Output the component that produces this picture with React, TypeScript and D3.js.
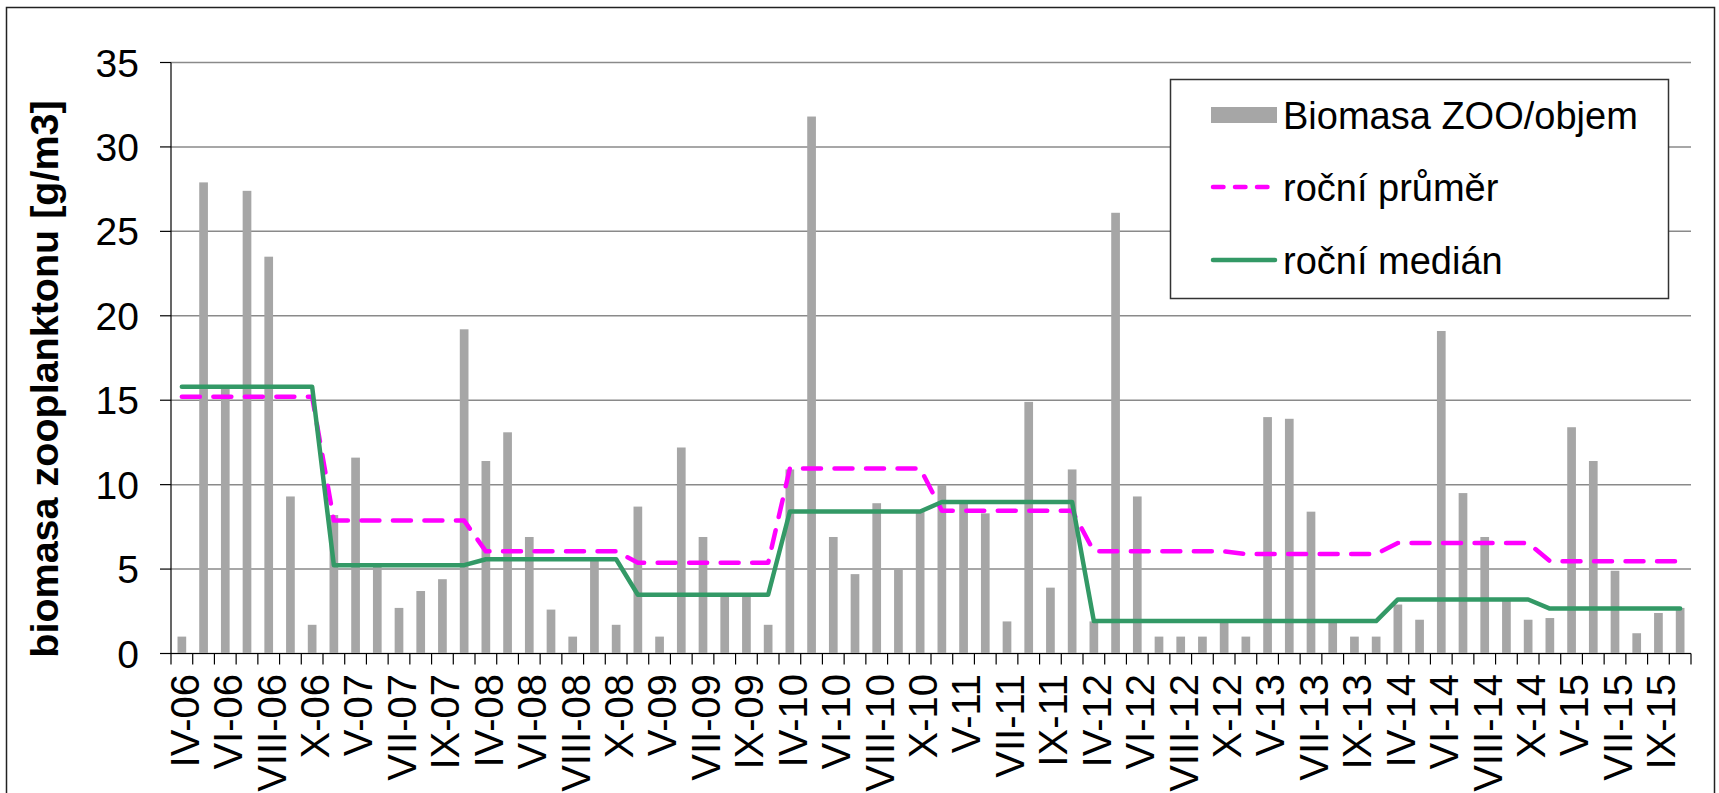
import React from "react";
import * as d3 from "d3";

const categories: string[] = [
  "IV-06","V-06","VI-06","VII-06","VIII-06","IX-06","X-06",
  "IV-07","V-07","VI-07","VII-07","VIII-07","IX-07","X-07",
  "IV-08","V-08","VI-08","VII-08","VIII-08","IX-08","X-08",
  "IV-09","V-09","VI-09","VII-09","VIII-09","IX-09","X-09",
  "IV-10","V-10","VI-10","VII-10","VIII-10","IX-10","X-10",
  "IV-11","V-11","VI-11","VII-11","VIII-11","IX-11","X-11",
  "IV-12","V-12","VI-12","VII-12","VIII-12","IX-12","X-12",
  "IV-13","V-13","VI-13","VII-13","VIII-13","IX-13","X-13",
  "IV-14","V-14","VI-14","VII-14","VIII-14","IX-14","X-14",
  "IV-15","V-15","VI-15","VII-15","VIII-15","IX-15","X-15",
];

const biomasa: number[] = [
  1.0, 27.9, 15.8, 27.4, 23.5, 9.3, 1.7,
  8.2, 11.6, 5.2, 2.7, 3.7, 4.4, 19.2,
  11.4, 13.1, 6.9, 2.6, 1.0, 5.6, 1.7,
  8.7, 1.0, 12.2, 6.9, 3.5, 3.4, 1.7,
  10.9, 31.8, 6.9, 4.7, 8.9, 5.0, 8.4,
  10.0, 9.0, 8.3, 1.9, 14.9, 3.9, 10.9,
  1.9, 26.1, 9.3, 1.0, 1.0, 1.0, 1.9,
  1.0, 14.0, 13.9, 8.4, 1.9, 1.0, 1.0,
  2.9, 2.0, 19.1, 9.5, 6.9, 3.2, 2.0,
  2.1, 13.4, 11.4, 4.9, 1.2, 2.4, 2.7,
];

const rocniPrumer: number[] = [
  15.2, 15.2, 15.2, 15.2, 15.2, 15.2, 15.2,
  7.87, 7.87, 7.87, 7.87, 7.87, 7.87, 7.87,
  6.05, 6.05, 6.05, 6.05, 6.05, 6.05, 6.05,
  5.37, 5.37, 5.37, 5.37, 5.37, 5.37, 5.37,
  10.96, 10.96, 10.96, 10.96, 10.96, 10.96, 10.96,
  8.46, 8.46, 8.46, 8.46, 8.46, 8.46, 8.46,
  6.05, 6.05, 6.05, 6.05, 6.05, 6.05, 6.05,
  5.89, 5.89, 5.89, 5.89, 5.89, 5.89, 5.89,
  6.54, 6.54, 6.54, 6.54, 6.54, 6.54, 6.54,
  5.47, 5.47, 5.47, 5.47, 5.47, 5.47, 5.47,
];

const rocniMedian: number[] = [
  15.8, 15.8, 15.8, 15.8, 15.8, 15.8, 15.8,
  5.23, 5.23, 5.23, 5.23, 5.23, 5.23, 5.23,
  5.58, 5.58, 5.58, 5.58, 5.58, 5.58, 5.58,
  3.48, 3.48, 3.48, 3.48, 3.48, 3.48, 3.48,
  8.41, 8.41, 8.41, 8.41, 8.41, 8.41, 8.41,
  8.97, 8.97, 8.97, 8.97, 8.97, 8.97, 8.97,
  1.92, 1.92, 1.92, 1.92, 1.92, 1.92, 1.92,
  1.92, 1.92, 1.92, 1.92, 1.92, 1.92, 1.92,
  3.2, 3.2, 3.2, 3.2, 3.2, 3.2, 3.2,
  2.66, 2.66, 2.66, 2.66, 2.66, 2.66, 2.66,
];

const yTicks: number[] = [0, 5, 10, 15, 20, 25, 30, 35];
const legendLabels: string[] = ["Biomasa ZOO/objem", "roční průměr", "roční medián"];
const yTitle = "biomasa zooplanktonu [g/m3]";

const W = 1719;
const H = 793;
const FONT = "'Liberation Sans', Arial, sans-serif";

export default function App() {
  const left = 171;
  const right = 1691;
  const top = 62.5;
  const bottom = 653.5;

  const xStep = d3.scaleBand<string>().domain(categories).range([left, right]).padding(0);
  const y = d3.scaleLinear().domain([0, 35]).range([bottom, top]);

  const cx = (c: string) => (xStep(c) as number) + xStep.bandwidth() / 2;
  const bw = 8.7;

  const lineGen = d3
    .line<number>()
    .x((_, i) => cx(categories[i]))
    .y((d) => y(d));

  const tickXs = categories.map((c) => xStep(c) as number).concat([right]);

  const legX = 1170.5;
  const legY = 79.5;
  const legW = 498;
  const legH = 219;
  const rowY = [115, 187, 260];
  const symX1 = 1211;
  const symX2 = 1277;
  const textX = 1283;

  return (
    <svg
      width={W}
      height={H}
      style={{ position: "absolute", left: 0, top: 0, background: "#fff" }}
      fontFamily={FONT}
    >
      <rect x={0} y={0} width={W} height={H} fill="#fff" />
      <rect x={6.5} y={7.5} width={1708} height={H + 10} fill="none" stroke="#222" strokeWidth={1.5} />

      {yTicks.map((t) => (
        <line key={"g" + t} x1={left} x2={right} y1={y(t)} y2={y(t)} stroke="#8a8a8a" strokeWidth={1.5} />
      ))}
      {yTicks.map((t) => (
        <line key={"yt" + t} x1={left - 11} x2={left} y1={y(t)} y2={y(t)} stroke="#000" strokeWidth={1.2} />
      ))}
      {yTicks.map((t) => (
        <text key={"yl" + t} x={139} y={y(t)} dy="0.36em" textAnchor="end" fontSize={39} fill="#000">
          {t}
        </text>
      ))}

      {biomasa.map((v, i) => (
        <rect
          key={"b" + i}
          x={cx(categories[i]) - bw / 2}
          y={y(v)}
          width={bw}
          height={y(0) - y(v)}
          fill="#a6a6a6"
        />
      ))}

      <line x1={left} x2={left} y1={top} y2={bottom} stroke="#000" strokeWidth={1.2} />
      <line x1={left} x2={right} y1={bottom} y2={bottom} stroke="#000" strokeWidth={1.2} />
      {tickXs.map((tx, i) => (
        <line key={"xt" + i} x1={tx} x2={tx} y1={bottom} y2={bottom + 11} stroke="#000" strokeWidth={1.2} />
      ))}

      <path
        d={lineGen(rocniPrumer) || ""}
        fill="none"
        stroke="#ff00ff"
        strokeWidth={4.5}
        strokeDasharray="18 13.5"
        strokeLinecap="round"
        strokeLinejoin="round"
      />
      <path
        d={lineGen(rocniMedian) || ""}
        fill="none"
        stroke="#339966"
        strokeWidth={4.5}
        strokeLinecap="round"
        strokeLinejoin="round"
      />

      {categories.map((c, i) =>
        i % 2 === 0 ? (
          <text
            key={"xl" + i}
            transform={`translate(${cx(c)},${674}) rotate(-90)`}
            dy="0.42em"
            textAnchor="end"
            fontSize={40}
            fill="#000"
          >
            {c}
          </text>
        ) : null
      )}

      <text
        transform={`translate(44,379) rotate(-90)`}
        dy="0.36em"
        textAnchor="middle"
        fontSize={39.5}
        fontWeight="bold"
        fill="#000"
      >
        {yTitle}
      </text>

      <rect x={legX} y={legY} width={legW} height={legH} fill="#fff" stroke="#333" strokeWidth={1.5} />
      <rect x={symX1} y={rowY[0] - 8} width={symX2 - symX1} height={16} fill="#a6a6a6" />
      <line
        x1={symX1 + 2}
        x2={symX2 - 2}
        y1={rowY[1]}
        y2={rowY[1]}
        stroke="#ff00ff"
        strokeWidth={4.5}
        strokeDasharray="10.5 11.5"
        strokeLinecap="round"
      />
      <line x1={symX1 + 2} x2={symX2 - 2} y1={rowY[2]} y2={rowY[2]} stroke="#339966" strokeWidth={4.5} strokeLinecap="round" />
      {legendLabels.map((l, i) => (
        <text key={"lg" + i} x={textX} y={rowY[i]} dy="0.36em" fontSize={38} fill="#000">
          {l}
        </text>
      ))}
    </svg>
  );
}
